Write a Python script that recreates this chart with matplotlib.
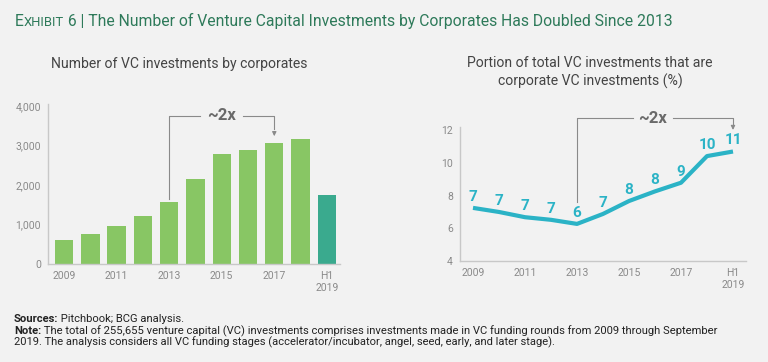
import matplotlib
matplotlib.use("agg")
import matplotlib.pyplot as plt

years = ["2009", "2010", "2011", "2012", "2013", "2014", "2015", "2016", "2017", "2018", "H1\n2019"]
vc_deals = [610, 765, 950, 1225, 1575, 2160, 2790, 2885, 3065, 3165, 1735]
share_pct = [7.25, 7.0, 6.68, 6.52, 6.27, 6.88, 7.67, 8.26, 8.79, 10.42, 10.70]
share_labels = ["7", "7", "7", "7", "6", "7", "8", "8", "9", "10", "11"]
tick_idx = [0, 2, 4, 6, 8, 10]

BG = "#f2f2f2"
GREEN = "#88c664"
TEAL = "#3aaa8e"
CYAN = "#2bb3c6"
GREY = "#8a8a8a"
AXC = "#c8c8c8"
TITLE_C = "#2e7a5a"
W, H = 768, 362

plt.rcParams["font.family"] = ["Roboto", "DejaVu Sans"]

fig = plt.figure(figsize=(W / 100, H / 100), dpi=100, facecolor=BG)
renderer = fig.canvas.get_renderer()


def px_axes(x0, y0, x1, y1):
    # pixel box (top-left origin) -> figure fraction
    return fig.add_axes([x0 / W, 1 - y1 / H, (x1 - x0) / W, (y1 - y0) / H])


def width_px(t):
    return t.get_window_extent(renderer).width


def fit(t, target):
    t.set_fontsize(t.get_fontsize() * target / width_px(t))
    return t


def run(x, y, pieces, target=None, **kw):
    # pieces: (text, size, weight) placed one after another on a baseline
    def place(scale):
        texts, cx = [], x
        for s, size, weight in pieces:
            t = fig.text(cx / W, 1 - y / H, s, fontsize=size * scale, fontweight=weight,
                         va="baseline", **kw)
            cx += width_px(t)
            texts.append(t)
        return texts, cx - x
    texts, w = place(1.0)
    if target:
        for t in texts:
            t.remove()
        texts, w = place(target / w)
    return texts


def style(ax):
    ax.set_facecolor(BG)
    for s in ("top", "right"):
        ax.spines[s].set_visible(False)
    for s in ("left", "bottom"):
        ax.spines[s].set_color(AXC)
        ax.spines[s].set_linewidth(1.0)
    ax.tick_params(length=0, colors=GREY, labelsize=7.5, pad=5)
    ax.set_xticks(tick_idx)
    ax.set_xticklabels([years[i] for i in tick_idx])


# title
run(15, 26, [("E", 14, "normal"), ("XHIBIT", 11.5, "normal"),
             (" 6 | The Number of Venture Capital Investments by Corporates Has Doubled Since 2013", 14, "normal")],
    target=663, color=TITLE_C)

# left: bar chart
ax1 = px_axes(48, 104, 340, 264)
style(ax1)
x = list(range(len(years)))
colors = [GREEN] * (len(years) - 1) + [TEAL]
ax1.bar(x, vc_deals, width=0.7, color=colors)
ax1.set_xlim(-0.61, 10.5)
ax1.set_ylim(0, 4050)
ax1.set_yticks([0, 1000, 2000, 3000, 4000])
ax1.set_yticklabels(["0", "1,000", "2,000", "3,000", "4,000"])
fit(fig.text(179.5 / W, 1 - 64 / H, "Number of VC investments by corporates",
             fontsize=11, color="#444444", ha="center", va="center"), 255)

# ~2x bracket, 2013 -> 2017
yb = 3750
ax1.plot([4, 4, 5.17], [vc_deals[4] + 60, yb, yb], color=GREY, lw=0.8)
ax1.plot([6.8, 8, 8], [yb, yb, vc_deals[8] + 350], color=GREY, lw=0.8)
ax1.annotate("", xy=(8, vc_deals[8] + 100), xytext=(8, vc_deals[8] + 360),
             arrowprops=dict(arrowstyle="-|>", color=GREY, lw=0.8, mutation_scale=6))
ax1.text(6.0, yb, "~2x", fontsize=12, fontweight="bold", color="#6a6a6a",
         ha="center", va="center")

# right: line chart
ax2 = px_axes(460, 127, 746, 261)
style(ax2)
ax2.plot(x, share_pct, color=CYAN, lw=3, solid_capstyle="butt")
ax2.set_xlim(-0.5, 10.5)
ax2.set_ylim(4, 12.2)
ax2.set_yticks([4, 6, 8, 10, 12])
for i, (v, lab) in enumerate(zip(share_pct, share_labels)):
    ax2.annotate(lab, (i, v), xytext=(0, 8), textcoords="offset points",
                 ha="center", va="center", fontsize=11, fontweight="bold", color=CYAN)
t = fig.text(590 / W, 1 - 72.5 / H, "Portion of total VC investments that are\ncorporate VC investments (%)",
             fontsize=11, color="#444444", ha="center", va="center", linespacing=1.25)
fit(t, 244)

yb2 = 12.73
ax2.plot([4, 4, 6.15], [7.6, yb2, yb2], color=GREY, lw=0.8, clip_on=False)
ax2.plot([7.7, 10, 10], [yb2, yb2, 12.3], color=GREY, lw=0.8, clip_on=False)
ax2.annotate("", xy=(10, 12.02), xytext=(10, 12.35),
             arrowprops=dict(arrowstyle="-|>", color=GREY, lw=0.8, mutation_scale=6),
             annotation_clip=False)
ax2.text(6.92, yb2, "~2x", fontsize=12, fontweight="bold", color="#6a6a6a",
         ha="center", va="center")

# footer
FC = "#222222"
run(14, 322.5, [("Sources:", 8.5, "bold"), (" Pitchbook; BCG analysis.", 8.5, "normal")], target=171, color=FC)
run(14, 334.5, [("Note:", 8.5, "bold"),
                (" The total of 255,655 venture capital (VC) investments comprises investments made in VC funding rounds from 2009 through September",
                 8.5, "normal")], target=703, color=FC)
run(14, 345.5, [("2019. The analysis considers all VC funding stages (accelerator/incubator, angel, seed, early, and later stage).",
                 8.5, "normal")], target=533, color=FC)

fig.savefig("out.png", dpi=100, facecolor=BG)
